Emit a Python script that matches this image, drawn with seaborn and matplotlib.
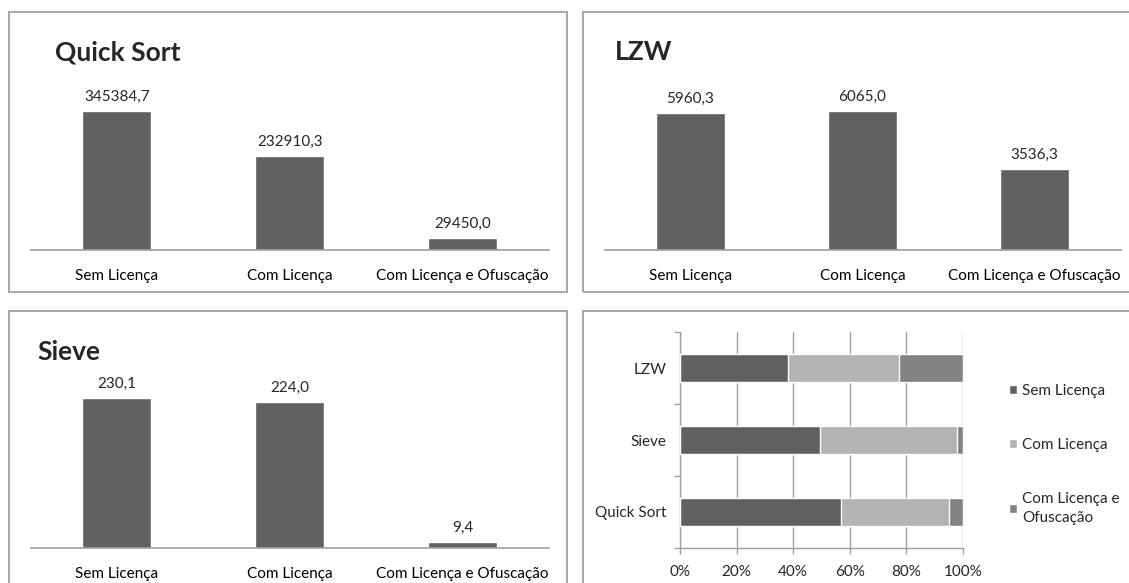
import matplotlib
matplotlib.use("Agg")
import matplotlib.pyplot as plt
import seaborn as sns
import pandas as pd
from matplotlib.patches import Rectangle, Patch
from matplotlib.ticker import FuncFormatter, FixedLocator

# ---- data -------------------------------------------------------------
categories = ["Sem Licença", "Com Licença", "Com Licença e Ofuscação"]
quick_sort = [345384.7, 232910.3, 29450.0]
lzw = [5960.3, 6065.0, 3536.3]
sieve = [230.1, 224.0, 9.4]
stack_order = ["LZW", "Sieve", "Quick Sort"]
pct_ticks = [0, 20, 40, 60, 80, 100]

# ---- style ------------------------------------------------------------
sns.set_theme(style="white")
plt.rcParams["font.family"] = ["Lato", "DejaVu Sans"]

DARK = "#606060"
LIGHT = "#b3b3b3"
MID = "#838383"
FRAME = "#a6a6a6"
AXIS = "#a0a0a0"
FS = 11

W, H = 1129, 583
fig = plt.figure(figsize=(W / 100, H / 100), dpi=100)
fig.patch.set_facecolor("white")


def box(x0, y0, x1, y1):
    """Pixel box (top-left origin) -> figure fraction rect."""
    return [x0 / W, 1 - y1 / H, (x1 - x0) / W, (y1 - y0) / H]


# panel frames
for (x0, y0, x1, y1) in [(9, 12, 567, 292), (583, 12, 1140, 292),
                         (9, 311, 567, 600), (583, 311, 1140, 600)]:
    fig.patches.append(Rectangle((x0 / W, 1 - y1 / H), (x1 - x0) / W, (y1 - y0) / H,
                                 transform=fig.transFigure, fill=False,
                                 edgecolor=FRAME, linewidth=1.4, zorder=0))


def fmt_pt(v):
    return f"{v:.1f}".replace(".", ",")


def bar_panel(rect, values, ymax, title, title_xy):
    ax = fig.add_axes(rect)
    sns.barplot(x=categories, y=values, color=DARK, width=0.4, saturation=1,
                ax=ax)
    ax.set_ylim(0, ymax)
    ax.set_xlim(-0.5, 2.5)
    for s in ["top", "right", "left"]:
        ax.spines[s].set_visible(False)
    ax.spines["bottom"].set_color(AXIS)
    ax.spines["bottom"].set_linewidth(1.2)
    ax.set_yticks([])
    ax.set_ylabel("")
    ax.tick_params(axis="x", length=0, pad=14, labelsize=FS, colors="black")
    ax.bar_label(ax.containers[0], labels=[fmt_pt(v) for v in values],
                 padding=5, fontsize=FS)
    fig.text(title_xy[0] / W, 1 - title_xy[1] / H, title, fontsize=19,
             fontweight="bold", ha="left", va="center")
    return ax


bar_panel(box(30.5, 89, 549, 250), quick_sort, 400000, "Quick Sort", (55, 52))
bar_panel(box(604.5, 89, 1120.5, 250), lzw, 7000, "LZW", (615, 52))
bar_panel(box(30.5, 385, 549, 548), sieve, 250, "Sieve", (37, 352))

# ---- 100% stacked comparison ----------------------------------------
series = {"Quick Sort": quick_sort, "LZW": lzw, "Sieve": sieve}
df = pd.DataFrame(series, index=categories).T
pct = df.div(df.sum(axis=1), axis=0) * 100
pct = pct.loc[stack_order]
cum = pct.cumsum(axis=1).reset_index(names="algo")

ax = fig.add_axes(box(680, 332, 963, 548))
layers = [(categories[2], MID), (categories[1], LIGHT), (categories[0], DARK)]
for col, c in layers:
    sns.barplot(data=cum, x=col, y="algo", orient="y", color=c, width=0.4,
                saturation=1, ax=ax, zorder=3)
ax.set_xlim(0, 100)
ax.set_ylim(2.5, -0.5)
ax.set_xlabel("")
ax.set_ylabel("")
ax.xaxis.set_major_locator(FixedLocator(pct_ticks))
ax.xaxis.set_major_formatter(FuncFormatter(lambda v, p: f"{v:.0f}%"))
ax.grid(axis="x", color=AXIS, linewidth=1.0, zorder=0)
ax.set_axisbelow(True)
for s in ["top", "right"]:
    ax.spines[s].set_visible(False)
for s in ["left", "bottom"]:
    ax.spines[s].set_color(AXIS)
    ax.spines[s].set_linewidth(1.0)
ax.tick_params(axis="x", length=4, width=1.0, color=AXIS, direction="out",
               pad=8, labelsize=FS, bottom=True)
ax.tick_params(axis="y", which="major", length=0, pad=10, labelsize=FS, left=True)
ax.yaxis.set_minor_locator(FixedLocator([-0.5, 0.5, 1.5, 2.5]))
ax.tick_params(axis="y", which="minor", length=4, width=1.0, color=AXIS,
               direction="out", left=True)

handles = [Patch(facecolor=DARK), Patch(facecolor=LIGHT), Patch(facecolor=MID)]
labels = ["Sem Licença", "Com Licença", "Com Licença e\nOfuscação"]
leg = fig.legend(handles, labels, loc="upper left",
                 bbox_to_anchor=(1009 / W, 1 - 384 / H), frameon=False,
                 fontsize=FS, handlelength=0.5, handleheight=0.5,
                 handletextpad=0.35, labelspacing=2.62, borderpad=0,
                 borderaxespad=0)
for t in leg.get_texts():
    t.set_linespacing(1.45)

fig.savefig("out.png", dpi=100, facecolor="white")
